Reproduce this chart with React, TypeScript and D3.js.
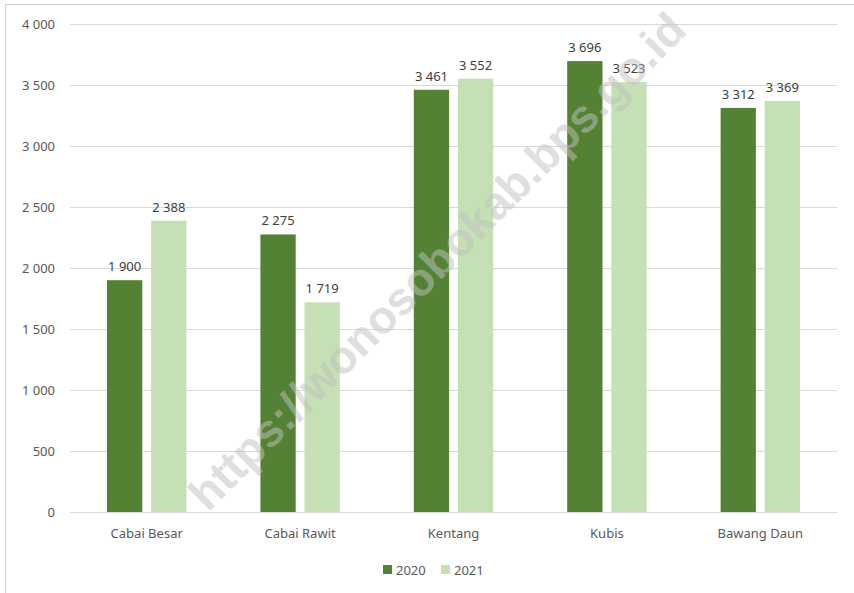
import React, { useEffect, useRef } from 'react';
import * as d3 from 'd3';

const categories = ['Cabai Besar', 'Cabai Rawit', 'Kentang', 'Kubis', 'Bawang Daun'];
const series2020 = [1900, 2275, 3461, 3696, 3312];
const series2021 = [2388, 1719, 3552, 3523, 3369];
const seriesNames = ['2020', '2021'];
const yTicks = [0, 500, 1000, 1500, 2000, 2500, 3000, 3500, 4000];

const colors = ['#548235', '#C5E0B4'];
const textColor = '#595959';
const font = '"Noto Sans", "Open Sans", sans-serif';

const fmt = (v: number) => d3.format(',')(v).replace(/,/g, ' ');

const App: React.FC = () => {
  const svgRef = useRef<SVGSVGElement>(null);

  useEffect(() => {
    if (!svgRef.current) return;
    const width = 854;
    const height = 593;
    const svg = d3.select(svgRef.current);
    svg.selectAll('*').remove();

    const margin = { top: 24, right: 17, bottom: 81, left: 70 };
    const innerWidth = width - margin.left - margin.right;
    const innerHeight = height - margin.top - margin.bottom;

    const g = svg.append('g').attr('transform', `translate(${margin.left},${margin.top})`);

    const x = d3.scaleBand().domain(categories).range([0, innerWidth]);
    const y = d3.scaleLinear().domain([0, 4000]).range([innerHeight, 0]);

    // grid
    g.selectAll('.grid')
      .data(yTicks)
      .enter()
      .append('line')
      .attr('x1', 0).attr('x2', innerWidth)
      .attr('y1', d => Math.round(y(d)) + 0.5)
      .attr('y2', d => Math.round(y(d)) + 0.5)
      .attr('stroke', '#d9d9d9')
      .attr('stroke-width', 1);

    // y labels
    g.selectAll('.ylab')
      .data(yTicks)
      .enter()
      .append('text')
      .attr('x', -15)
      .attr('y', d => y(d))
      .attr('dy', '0.35em')
      .attr('text-anchor', 'end')
      .attr('fill', textColor)
      .style('font-family', font)
      .style('font-size', '13px')
      .text(d => fmt(d));

    // x labels
    g.selectAll('.xlab')
      .data(categories)
      .enter()
      .append('text')
      .attr('x', d => (x(d) ?? 0) + x.bandwidth() / 2)
      .attr('y', innerHeight + 26)
      .attr('text-anchor', 'middle')
      .attr('fill', textColor)
      .style('font-family', font)
      .style('font-size', '13px')
      .text(d => d);

    const x1 = d3.scaleBand().domain(seriesNames).range([37, x.bandwidth() - 37]).paddingInner(0.2);

    const allSeries = [series2020, series2021];
    allSeries.forEach((vals, si) => {
      const name = seriesNames[si];
      g.selectAll(`.bar-${si}`)
        .data(vals)
        .enter()
        .append('rect')
        .attr('x', (_, i) => (x(categories[i]) ?? 0) + (x1(name) ?? 0))
        .attr('y', d => y(d))
        .attr('width', x1.bandwidth())
        .attr('height', d => innerHeight - y(d))
        .attr('fill', colors[si]);

      g.selectAll(`.lab-${si}`)
        .data(vals)
        .enter()
        .append('text')
        .attr('x', (_, i) => (x(categories[i]) ?? 0) + (x1(name) ?? 0) + x1.bandwidth() / 2)
        .attr('y', d => y(d) - 9)
        .attr('text-anchor', 'middle')
        .attr('fill', '#404040')
        .style('font-family', font)
        .style('font-size', '13px')
        .text(d => fmt(d));
    });

    // watermark (semi-transparent, over the bars)
    svg.append('text')
      .attr('transform', 'translate(437,261) rotate(-45)')
      .attr('text-anchor', 'middle')
      .attr('dy', '0.35em')
      .attr('fill', '#c0c0c0')
      .attr('opacity', 0.5)
      .style('font-family', '"Liberation Sans", Arial, sans-serif')
      .style('font-weight', 'bold')
      .style('font-size', '46px')
      .text('https://wonosobokab.bps.go.id');

    // legend
    const legend = svg.append('g').attr('transform', 'translate(383,565)');
    const offsets = [0, 58];
    seriesNames.forEach((n, i) => {
      legend.append('rect')
        .attr('x', offsets[i]).attr('y', 0)
        .attr('width', 9).attr('height', 9)
        .attr('fill', colors[i]);
      legend.append('text')
        .attr('x', offsets[i] + 13).attr('y', 5)
        .attr('dy', '0.35em')
        .attr('fill', textColor)
        .style('font-family', font)
        .style('font-size', '13px')
        .text(n);
    });
  }, []);

  return (
    <>
      <style>{'body { margin: 0; }'}</style>
      <div style={{ width: 854, height: 593, overflow: 'hidden', background: '#fff', position: 'relative' }}>
        <div style={{
          position: 'absolute', left: 5, top: 4, width: 900, height: 650,
          borderLeft: '1px solid #d0d0d0', borderTop: '1px solid #d0d0d0'
        }} />
        <svg ref={svgRef} width={854} height={593} style={{ display: 'block', position: 'relative' }}></svg>
      </div>
    </>
  );
};

export default App;
